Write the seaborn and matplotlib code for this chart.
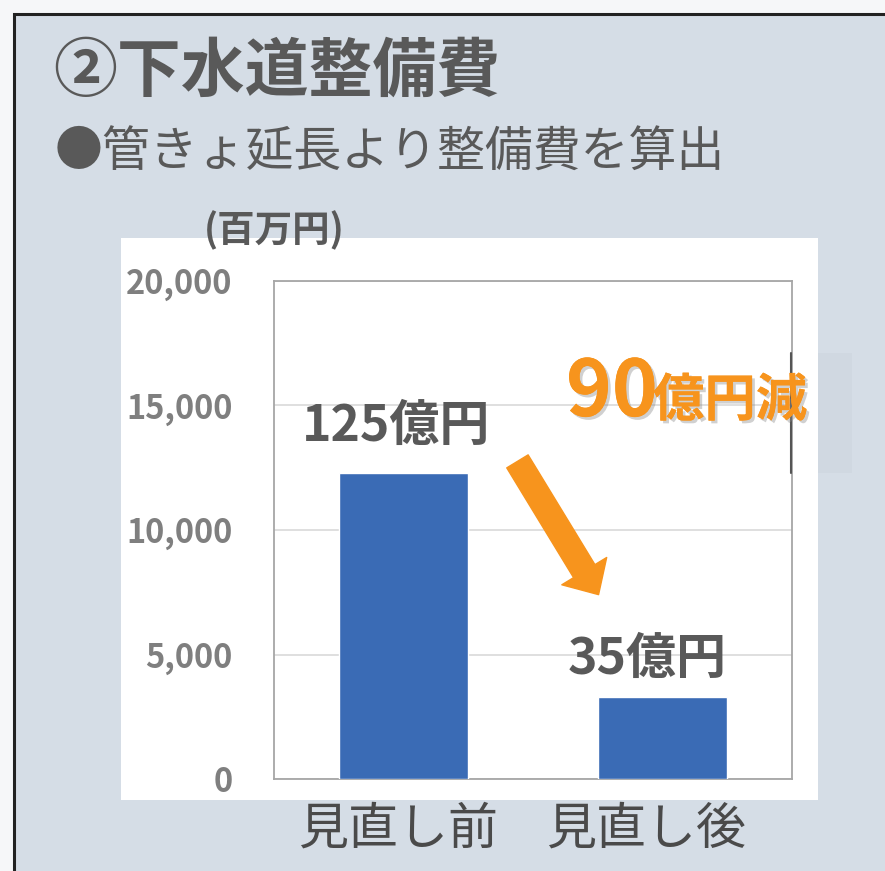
import matplotlib
matplotlib.use('Agg')
import matplotlib.pyplot as plt
import matplotlib.patheffects as pe
from matplotlib.patches import Rectangle, FancyArrowPatch
from matplotlib.ticker import FuncFormatter
import seaborn as sns
import pandas as pd

# Data
categories = ['見直し前', '見直し後']
costs = [12300, 3300]              # 百万円
bar_labels = ['125億円', '35億円']
yticks = [0, 5000, 10000, 15000, 20000]
title = '②下水道整備費'
subtitle = '●管きょ延長より整備費を算出'
unit = '(百万円)'
diff_num = '90'
diff_text = '億円減'

df = pd.DataFrame({'category': categories, 'cost': costs})

sns.set_theme(style='white')
plt.rcParams['font.family'] = ['Noto Sans CJK JP', 'DejaVu Sans']

W, H = 885, 871
fig = plt.figure(figsize=(W / 100, H / 100), dpi=100)
fig.patch.set_facecolor('#f6f7f9')


def fx(px):
    return px / W


def fy(py):
    return 1 - py / H


# bluish panel with black border
fig.patches.append(Rectangle((fx(14), fy(H + 20)), fx(W + 20 - 14), (H + 20 - 14) / H,
                             transform=fig.transFigure, facecolor='#d5dde6',
                             edgecolor='#222222', linewidth=2.2, zorder=0))
# white chart area
fig.patches.append(Rectangle((fx(121), fy(800)), fx(818 - 121), (800 - 238) / H,
                             transform=fig.transFigure, facecolor='white',
                             edgecolor='none', zorder=0.5))
# faint text box remnant at right
fig.patches.append(Rectangle((fx(818), fy(473)), fx(852 - 818), (473 - 353) / H,
                             transform=fig.transFigure, facecolor='#d0d8e1',
                             edgecolor='none', zorder=0.6))

ax = fig.add_axes([fx(274), fy(779), fx(792 - 274), (779 - 281) / H])
ax.set_zorder(2)
ax.set_facecolor('white')

sns.barplot(data=df, x='category', y='cost', color='#3a6bb5', width=0.5,
            saturation=1, ax=ax, zorder=3)

ax.set_ylim(0, 20000)
ax.set_yticks(yticks)
ax.yaxis.set_major_formatter(FuncFormatter(lambda v, p: f'{int(v):,}'))
ax.grid(axis='y', color='#d9d9d9', linewidth=1.2, zorder=0)
ax.set_axisbelow(True)
for s in ax.spines.values():
    s.set_color('#a6a6a6')
    s.set_linewidth(1.3)
ax.tick_params(axis='y', length=0, pad=30, labelsize=23.5, labelcolor='#7f7f7f')
ax.tick_params(axis='x', length=0, labelbottom=False)
for t in ax.get_yticklabels():
    t.set_fontweight('bold')
ax.set_xlabel('')
ax.set_ylabel('')

# category labels below the axis (slightly shifted left as in the original)
cat_offsets = [(-4, -18), (-12, -18)]
for i, cat in enumerate(categories):
    ax.annotate(cat, (i, 0), xytext=cat_offsets[i], textcoords='offset points',
                ha='center', va='top', fontsize=36, color='#4a4a4a',
                annotation_clip=False)

# value labels above bars
offsets = [(-5, 33), (-11, 27)]
for i, (v, lab) in enumerate(zip(costs, bar_labels)):
    ax.annotate(lab, (i, v), xytext=offsets[i], textcoords='offset points',
                ha='center', va='center', fontsize=36, fontweight='bold',
                color='#595959')

# dark line segment from the overlapping text box
fig.add_artist(plt.Line2D([fx(791), fx(791)], [fy(353), fy(473)],
                          transform=fig.transFigure, color='#555555', lw=1.5, zorder=4))

# titles
fig.text(fx(53), fy(72), title, fontsize=46, fontweight='bold', color='#595959',
         va='center', ha='left')
fig.text(fx(55), fy(153), subtitle, fontsize=34.5, color='#595959',
         va='center', ha='left')
fig.text(fx(274), fy(230), unit, fontsize=27, fontweight='bold', color='#595959',
         va='center', ha='center', zorder=5)

# reduction callout
shadow = [pe.withSimplePatchShadow(offset=(2, -2), shadow_rgbFace='#8a8a8a', alpha=0.4),
          pe.Normal()]
orange = '#f7941d'
fig.text(fx(566), fy(416), diff_num, fontsize=56, fontweight='bold', color=orange,
         ha='left', va='baseline', style='italic', path_effects=shadow, zorder=6)
fig.text(fx(653), fy(416), diff_text, fontsize=37, fontweight='bold', color=orange,
         ha='left', va='baseline', path_effects=shadow, zorder=6)

# arrow
arrow = FancyArrowPatch((fx(516), fy(459)), (fx(600), fy(597)), transform=fig.transFigure,
                        arrowstyle='simple,head_length=1.1,head_width=2.1,tail_width=1.0',
                        mutation_scale=18, color=orange, zorder=6)
fig.patches.append(arrow)

fig.savefig('out.png', dpi=100, facecolor=fig.get_facecolor())
